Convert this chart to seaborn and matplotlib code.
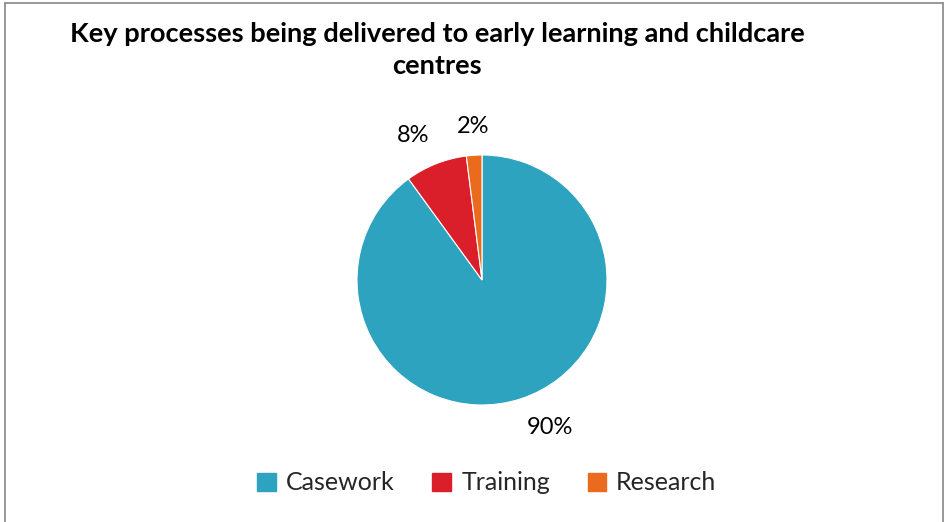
import numpy as np
import matplotlib
matplotlib.use("Agg")
import matplotlib.pyplot as plt
from matplotlib.lines import Line2D
import seaborn as sns

categories = ["Casework", "Training", "Research"]
values = [90, 8, 2]
colors = ["#2EA3BF", "#DA1F2B", "#EA6A1E"]
title = "Key processes being delivered to early learning and childcare\ncentres"

sns.set_theme(style="white")
plt.rcParams["font.family"] = ["Lato", "DejaVu Sans"]

W, H = 945, 522
fig = plt.figure(figsize=(W / 100, H / 100), dpi=100)
fig.patch.set_facecolor("white")

# pie axes: centre (482,280) px, radius 125 px
cx, cy, r = 482, 280, 125
ax = fig.add_axes([(cx - r) / W, (H - cy - r) / H, 2 * r / W, 2 * r / H])
wedges, _ = ax.pie(values, colors=colors, startangle=90, counterclock=False,
                   wedgeprops=dict(linewidth=0.8, edgecolor="white"))
ax.set_xlim(-1, 1)
ax.set_ylim(-1, 1)
ax.set_aspect("equal")
ax.axis("off")

total = float(sum(values))
for w, v in zip(wedges, values):
    theta = np.deg2rad((w.theta1 + w.theta2) / 2)
    c, s = np.cos(theta), np.sin(theta)
    ha = "left" if c > 0.2 else ("right" if c < -0.2 else "center")
    va = "bottom" if s > 0 else "top"
    d = 1.15
    ax.text(d * c, d * s, f"{v / total * 100:.0f}%", ha=ha, va=va,
            fontsize=17, color="#000000")

fig.text(437 / W, 1 - 50 / H, title, ha="center", va="center",
         fontsize=19.6, fontweight="bold", linespacing=1.45, color="#000000")

handles = [plt.Rectangle((0, 0), 1, 1, color=col) for col in colors]
fig.legend(handles, categories, loc="center", bbox_to_anchor=(487 / W, 1 - 483 / H),
           ncol=3, frameon=False, fontsize=18, handlelength=0.75, handleheight=0.75,
           handletextpad=0.4, columnspacing=1.5)

# border (top, left, right)
bc = "#868686"
fig.add_artist(Line2D([4.5 / W, 4.5 / W], [0, 1 - 2.5 / H], color=bc, lw=1.2, transform=fig.transFigure))
fig.add_artist(Line2D([4.5 / W, 943 / W], [1 - 2.5 / H, 1 - 2.5 / H], color=bc, lw=1.2, transform=fig.transFigure))
fig.add_artist(Line2D([943 / W, 943 / W], [0, 1 - 2.5 / H], color=bc, lw=1.2, transform=fig.transFigure))

fig.savefig("out.png", dpi=100, facecolor="white")
